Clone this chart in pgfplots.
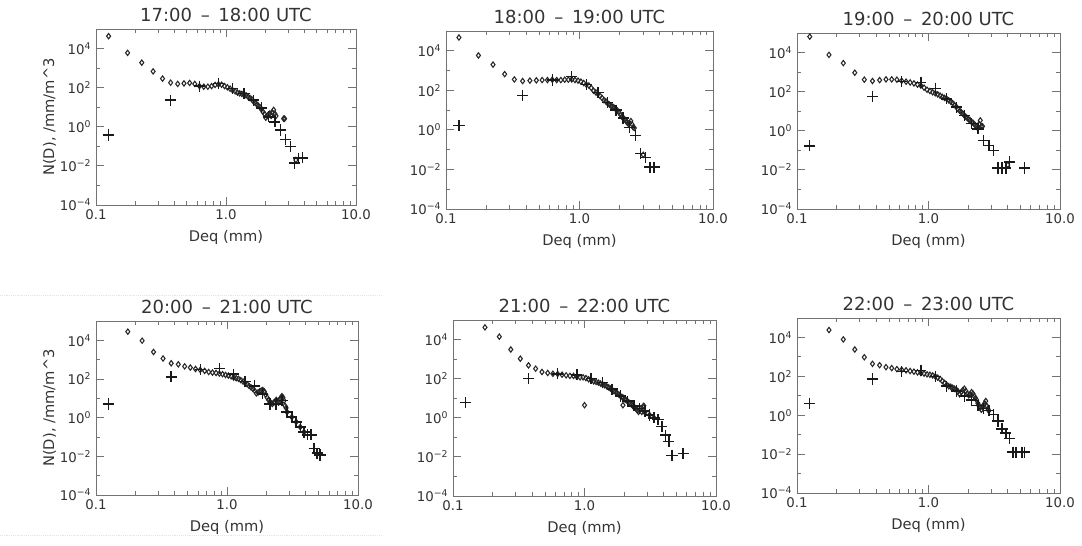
\documentclass[border=0pt]{standalone}
\usepackage{fontspec}
\setmainfont{DejaVu Sans}
\usepackage{pgfplots}
\pgfplotsset{compat=1.18}

\definecolor{axgray}{gray}{0.45}
\definecolor{txt}{gray}{0.2}

% one panel of the drop size distribution grid
\pgfplotsset{
  dsd/.style={
    scale only axis, anchor=south west,
    xmin=0.1, xmax=10, ymin=1e-4, ymax=1e5,
    xtick={0.1,1,10}, xticklabels={0.1,1.0,10.0},
    minor xtick={0.2,0.3,0.4,0.5,0.6,0.7,0.8,0.9,2,3,4,5,6,7,8,9},
    ytick={1e-4,1e-2,1,1e2,1e4},
    yticklabels={10\textsuperscript{−4},10\textsuperscript{−2},10\textsuperscript{0},10\textsuperscript{2},10\textsuperscript{4}},
    minor ytick={1e-3,1e-1,10,1e3},
    axis line style={axgray, line width=0.7pt},
    every tick/.style={axgray, line width=0.6pt},
    major tick length=6pt, minor tick length=3pt,
    tick label style={font=\fontsize{10}{11}\selectfont, text=txt},
    xlabel={Deq (mm)},
    label style={font=\fontsize{11}{12}\selectfont, text=txt},
    xlabel style={yshift=-1pt},
    ylabel shift=-4pt,
    title style={font=\fontsize{13.5}{15}\selectfont, text=txt, yshift=-4pt},
  },
  dia/.style={only marks, mark=diamond, mark size=2pt, black!85, mark options={line width=0.8pt}},
  pls/.style={only marks, mark=+, mark size=4.2pt, black!90, mark options={line width=1.1pt}},
}

\begin{document}
\begin{tikzpicture}
\path[use as bounding box] (0,0) rectangle (811.5pt,409.5pt);
\draw[black!10, densely dotted] (0,188.25pt) -- (287pt,188.25pt);
\draw[black!10, densely dotted] (0,8.25pt) -- (287pt,8.25pt);

% 17-18 UTC
\begin{loglogaxis}[dsd, at={(72pt,255.75pt)}, width=195pt, height=132pt,
  title={17:00 \,–\, 18:00 UTC}, ylabel={N(D), /mm/m\textasciicircum 3}]
\addplot[dia] coordinates {(0.125,4.3e4)(0.175,6.0e3)(0.225,1.9e3)(0.275,680)(0.325,290)(0.375,180)(0.425,155)(0.475,165)(0.525,175)(0.575,155)(0.625,120)(0.675,112)(0.725,112)(0.775,120)(0.825,138)(0.875,148)(0.925,142)(0.975,120)(1.025,104)(1.075,89)(1.125,73)(1.175,65)(1.225,56)(1.275,51)(1.325,48)(1.375,44)(1.425,41)(1.475,35)(1.525,30)(1.575,26)(1.625,20)(1.675,17)(1.725,14)(1.775,12)(1.825,10)(1.875,7.9)(1.925,5.8)(1.975,4.6)(2.025,2.9)(2.075,3.6)(2.125,4.3)(2.175,4.8)(2.225,3.6)(2.275,5.4)(2.325,7.3)(2.375,4.6)(2.425,3.6)(2.775,2.6)(2.8,2.6)(2.825,2.6)(3.45,0.02)};
\addplot[pls] coordinates {(0.125,0.38)(0.375,23)(0.625,120)(0.875,160)(1.125,89)(1.375,49)(1.625,23)(1.875,9.3)(2.125,3.2)(2.375,1.8)(2.625,0.68)(2.875,0.23)(3.125,0.095)(3.375,0.014)(3.625,0.025)(3.875,0.026)};
\end{loglogaxis}

% 18-19 UTC
\begin{loglogaxis}[dsd, at={(334.5pt,252.75pt)}, width=200.25pt, height=133.5pt,
  title={18:00 \,–\, 19:00 UTC}]
\addplot[dia] coordinates {(0.125,4.7e4)(0.175,5.8e3)(0.225,2.0e3)(0.275,660)(0.325,355)(0.375,295)(0.425,310)(0.475,320)(0.525,330)(0.575,330)(0.625,345)(0.675,330)(0.725,330)(0.775,345)(0.825,345)(0.875,355)(0.925,330)(0.975,310)(1.025,275)(1.075,235)(1.125,195)(1.175,175)(1.225,132)(1.275,95)(1.325,79)(1.375,66)(1.425,52)(1.475,41)(1.525,32)(1.575,28)(1.625,22)(1.675,19)(1.725,16)(1.775,15)(1.825,13)(1.875,11)(1.925,9.4)(1.975,7.8)(2.025,5.9)(2.075,4.7)(2.125,4.0)(2.175,3.5)(2.225,2.9)(2.275,2.4)(2.325,2.0)(2.375,2.2)(2.425,2.8)(2.475,1.9)(2.525,1.35)(2.575,1.25)(3.0,0.055)};
\addplot[pls] coordinates {(0.125,1.7)(0.375,54)(0.625,330)(0.875,490)(1.125,195)(1.375,79)(1.625,25)(1.875,10)(2.125,4.0)(2.375,1.35)(2.625,0.51)(2.875,0.066)(3.125,0.039)(3.375,0.013)(3.625,0.013)};
\end{loglogaxis}

% 19-20 UTC
\begin{loglogaxis}[dsd, at={(597.75pt,252.75pt)}, width=197.25pt, height=132pt,
  title={19:00 \,–\, 20:00 UTC}]
\addplot[dia] coordinates {(0.125,6.5e4)(0.175,7.6e3)(0.225,2.9e3)(0.275,930)(0.325,410)(0.375,350)(0.425,390)(0.475,425)(0.525,425)(0.575,410)(0.625,360)(0.675,325)(0.725,295)(0.775,265)(0.825,230)(0.875,205)(0.925,160)(0.975,125)(1.025,108)(1.075,93)(1.125,83)(1.175,73)(1.225,63)(1.275,54)(1.325,48)(1.375,43)(1.425,36)(1.475,31)(1.525,26)(1.575,21)(1.625,17)(1.675,13)(1.725,10.5)(1.775,8.9)(1.825,7.6)(1.875,6.0)(1.925,5.1)(1.975,4.4)(2.025,3.8)(2.075,3.4)(2.125,2.8)(2.175,2.6)(2.225,2.2)(2.275,1.9)(2.325,1.6)(2.375,1.4)(2.425,2.2)(2.475,3.4)(2.525,1.7)(2.575,1.7)(4.0,0.018)};
\addplot[pls] coordinates {(0.125,0.17)(0.375,58)(0.625,325)(0.875,295)(1.125,148)(1.375,43)(1.625,16)(1.875,6)(2.125,2.3)(2.375,1.25)(2.625,0.32)(2.875,0.18)(3.125,0.10)(3.375,0.0126)(3.625,0.0126)(3.875,0.0126)(4.125,0.026)(5.375,0.0126)};
\end{loglogaxis}

% 20-21 UTC
\begin{loglogaxis}[dsd, at={(72pt,38.25pt)}, width=196.5pt, height=130.5pt,
  title={20:00 \,–\, 21:00 UTC}, ylabel={N(D), /mm/m\textasciicircum 3}]
\addplot[dia] coordinates {(0.175,2.8e4)(0.225,9.6e3)(0.275,2.5e3)(0.325,1150)(0.375,650)(0.425,575)(0.475,450)(0.525,390)(0.575,330)(0.625,295)(0.675,263)(0.725,230)(0.775,214)(0.825,205)(0.875,190)(0.925,178)(0.975,162)(1.025,150)(1.075,138)(1.125,118)(1.175,110)(1.225,102)(1.275,87)(1.325,74)(1.375,63)(1.425,54)(1.475,44)(1.525,37)(1.575,31)(1.625,25)(1.675,18)(1.725,20)(1.775,23)(1.825,25)(1.875,27)(1.925,23)(1.975,15.5)(2.025,11)(2.075,8.3)(2.125,6.5)(2.175,5.6)(2.225,5.2)(2.275,6.0)(2.325,6.5)(2.375,8.3)(2.425,7.1)(2.475,6.0)(2.525,8.9)(2.575,10.5)(2.625,13)(2.675,11)(2.725,7.6)(2.775,4.1)(2.825,3.2)(2.875,1.95)(3.125,1.07)(3.375,0.60)(3.625,0.33)(3.875,0.18)};
\addplot[pls] coordinates {(0.125,5.1)(0.375,129)(0.625,305)(0.875,355)(1.125,178)(1.375,74)(1.625,44)(1.875,17)(2.125,5.1)(2.375,5.1)(2.625,7.6)(2.875,1.95)(3.125,1.07)(3.375,0.60)(3.625,0.33)(3.875,0.18)(4.125,0.13)(4.375,0.13)(4.625,0.026)(4.875,0.0145)(5.125,0.0118)};
\end{loglogaxis}

% 21-22 UTC
\begin{loglogaxis}[dsd, at={(339.75pt,37.5pt)}, width=197.25pt, height=132pt,
  title={21:00 \,–\, 22:00 UTC}]
\addplot[dia] coordinates {(0.175,4.2e4)(0.225,1.4e4)(0.275,3.1e3)(0.325,1050)(0.375,480)(0.425,325)(0.475,220)(0.525,195)(0.575,178)(0.625,174)(0.675,160)(0.725,148)(0.775,138)(0.825,138)(0.875,126)(0.925,117)(0.975,117)(1.0,4.4)(1.025,107)(1.075,93)(1.125,83)(1.175,73)(1.225,68)(1.275,63)(1.325,56)(1.375,49)(1.425,46)(1.475,41)(1.525,36)(1.575,31)(1.625,26)(1.675,23)(1.725,21)(1.775,18)(1.825,15.5)(1.875,13)(1.925,11.7)(1.96,4.4)(1.975,10.5)(2.025,8.9)(2.075,7.9)(2.125,7.1)(2.175,6.0)(2.225,5.4)(2.275,4.8)(2.325,4.1)(2.375,3.6)(2.425,3.2)(2.475,2.8)(2.525,2.4)(2.575,2.0)(2.625,2.4)(2.675,3.0)(2.725,2.0)(2.775,3.6)(2.825,4.1)(2.875,1.9)(3.125,1.4)(3.375,1.0)};
\addplot[pls] coordinates {(0.125,6.0)(0.375,100)(0.625,178)(0.875,158)(1.125,100)(1.375,63)(1.625,29)(1.875,13)(2.125,7.1)(2.375,4.1)(2.625,3.0)(2.875,2.2)(3.125,1.4)(3.375,1.0)(3.625,0.8)(3.875,0.35)(4.125,0.13)(4.375,0.06)(4.625,0.012)(5.625,0.015)};
\end{loglogaxis}

% 22-23 UTC
\begin{loglogaxis}[dsd, at={(597.75pt,39.75pt)}, width=197.25pt, height=131.25pt,
  title={22:00 \,–\, 23:00 UTC}]
\addplot[dia] coordinates {(0.175,2.4e4)(0.225,7.9e3)(0.275,2.4e3)(0.325,960)(0.375,440)(0.425,375)(0.475,297)(0.525,265)(0.575,235)(0.625,218)(0.675,204)(0.725,187)(0.775,174)(0.825,160)(0.875,148)(0.925,138)(0.975,127)(1.025,121)(1.075,112)(1.125,100)(1.175,85)(1.225,73)(1.275,57)(1.325,46)(1.375,36)(1.425,31)(1.475,29)(1.525,26)(1.575,23)(1.625,21)(1.675,17)(1.725,12)(1.775,15.5)(1.825,19.5)(1.875,23)(1.925,17.5)(1.975,13)(2.025,10.5)(2.075,11.7)(2.125,15.5)(2.175,13)(2.225,9.5)(2.275,7.6)(2.325,6.0)(2.375,4.1)(2.425,3.0)(2.475,2.4)(2.525,1.9)(2.575,2.8)(2.625,3.2)(2.675,4.1)(2.725,5.4)(2.775,3.0)(2.825,2.2)(2.875,1.7)};
\addplot[pls] coordinates {(0.125,4.1)(0.375,73)(0.625,178)(0.875,204)(1.125,100)(1.375,31)(1.625,17.5)(1.875,9.5)(2.125,6.0)(2.375,3.2)(2.625,2.2)(2.875,1.7)(3.125,1.1)(3.375,0.5)(3.625,0.2)(3.875,0.12)(4.125,0.065)(4.375,0.0126)(4.625,0.0126)(5.125,0.0126)(5.375,0.0126)};
\end{loglogaxis}
\end{tikzpicture}
\end{document}
